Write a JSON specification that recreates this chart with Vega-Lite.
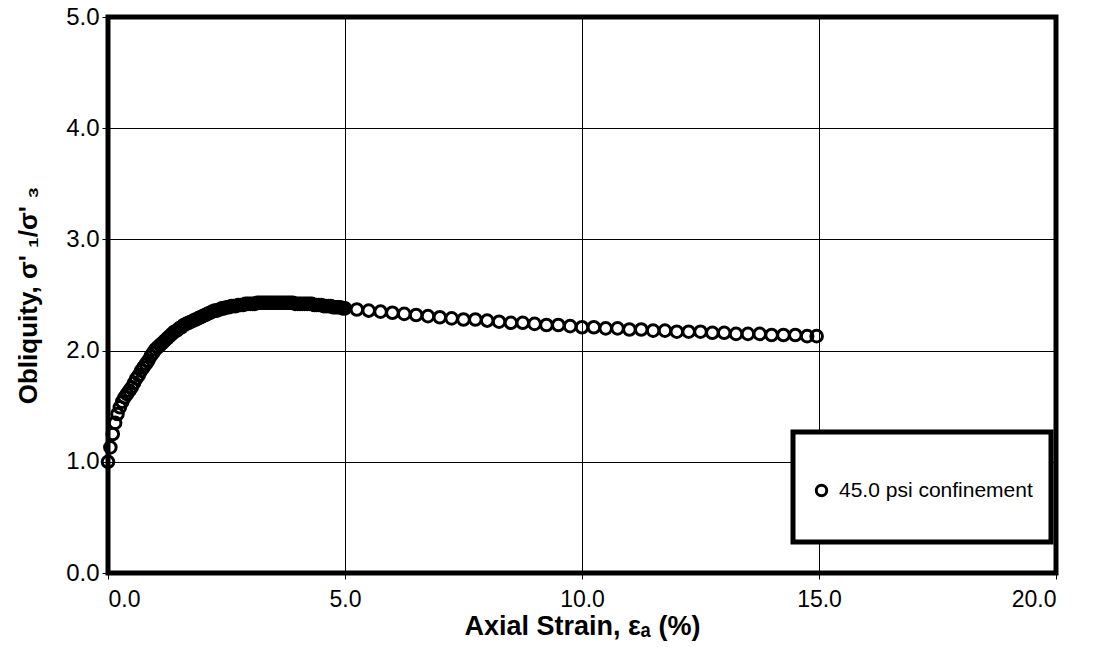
{
  "$schema": "https://vega.github.io/schema/vega-lite/v6.json",
  "width": 948,
  "height": 556,
  "autosize": {"type": "none"},
  "padding": {"left": 108, "top": 17, "right": 37, "bottom": 74},
  "background": "white",
  "config": {
    "view": {"stroke": "black", "strokeWidth": 5},
    "legend": {"strokeColor": "black", "strokeWidth": 5, "fillColor": "white"},
    "axis": {
      "domain": false,
      "grid": true,
      "gridColor": "black",
      "gridOpacity": 1,
      "gridWidth": 1,
      "tickColor": "black",
      "tickSize": 6,
      "tickWidth": 1,
      "labelFont": "Liberation Sans",
      "labelFontSize": 23,
      "labelColor": "black",
      "titleFont": "Liberation Sans",
      "titleFontWeight": "bold",
      "titleColor": "black"
    }
  },
  "data": {
    "values": [
      {"strain": 0.00, "obliquity": 1.00}, {"strain": 0.05, "obliquity": 1.13}, {"strain": 0.10, "obliquity": 1.25},
      {"strain": 0.15, "obliquity": 1.35}, {"strain": 0.20, "obliquity": 1.43}, {"strain": 0.25, "obliquity": 1.49},
      {"strain": 0.30, "obliquity": 1.54}, {"strain": 0.35, "obliquity": 1.58}, {"strain": 0.40, "obliquity": 1.61},
      {"strain": 0.45, "obliquity": 1.64}, {"strain": 0.50, "obliquity": 1.67}, {"strain": 0.55, "obliquity": 1.71},
      {"strain": 0.60, "obliquity": 1.75}, {"strain": 0.65, "obliquity": 1.78}, {"strain": 0.70, "obliquity": 1.82},
      {"strain": 0.75, "obliquity": 1.85}, {"strain": 0.80, "obliquity": 1.88}, {"strain": 0.85, "obliquity": 1.91},
      {"strain": 0.90, "obliquity": 1.95}, {"strain": 0.95, "obliquity": 1.98}, {"strain": 1.00, "obliquity": 2.01},
      {"strain": 1.05, "obliquity": 2.03}, {"strain": 1.10, "obliquity": 2.05}, {"strain": 1.15, "obliquity": 2.07},
      {"strain": 1.20, "obliquity": 2.09}, {"strain": 1.25, "obliquity": 2.11}, {"strain": 1.30, "obliquity": 2.13},
      {"strain": 1.35, "obliquity": 2.15}, {"strain": 1.40, "obliquity": 2.17}, {"strain": 1.45, "obliquity": 2.18},
      {"strain": 1.50, "obliquity": 2.20}, {"strain": 1.55, "obliquity": 2.21}, {"strain": 1.60, "obliquity": 2.23},
      {"strain": 1.65, "obliquity": 2.24}, {"strain": 1.70, "obliquity": 2.25}, {"strain": 1.75, "obliquity": 2.26},
      {"strain": 1.80, "obliquity": 2.27}, {"strain": 1.85, "obliquity": 2.28}, {"strain": 1.90, "obliquity": 2.29},
      {"strain": 1.95, "obliquity": 2.30}, {"strain": 2.00, "obliquity": 2.31}, {"strain": 2.05, "obliquity": 2.32},
      {"strain": 2.10, "obliquity": 2.33}, {"strain": 2.15, "obliquity": 2.34}, {"strain": 2.20, "obliquity": 2.35},
      {"strain": 2.25, "obliquity": 2.36}, {"strain": 2.30, "obliquity": 2.36}, {"strain": 2.35, "obliquity": 2.37},
      {"strain": 2.40, "obliquity": 2.38}, {"strain": 2.45, "obliquity": 2.38}, {"strain": 2.50, "obliquity": 2.39},
      {"strain": 2.55, "obliquity": 2.39}, {"strain": 2.60, "obliquity": 2.40}, {"strain": 2.65, "obliquity": 2.40},
      {"strain": 2.70, "obliquity": 2.40}, {"strain": 2.75, "obliquity": 2.41}, {"strain": 2.80, "obliquity": 2.41},
      {"strain": 2.85, "obliquity": 2.41}, {"strain": 2.90, "obliquity": 2.42}, {"strain": 2.95, "obliquity": 2.42},
      {"strain": 3.00, "obliquity": 2.42}, {"strain": 3.05, "obliquity": 2.42}, {"strain": 3.10, "obliquity": 2.42},
      {"strain": 3.15, "obliquity": 2.43}, {"strain": 3.20, "obliquity": 2.43}, {"strain": 3.25, "obliquity": 2.43},
      {"strain": 3.30, "obliquity": 2.43}, {"strain": 3.35, "obliquity": 2.43}, {"strain": 3.40, "obliquity": 2.43},
      {"strain": 3.45, "obliquity": 2.43}, {"strain": 3.50, "obliquity": 2.43}, {"strain": 3.55, "obliquity": 2.43},
      {"strain": 3.60, "obliquity": 2.43}, {"strain": 3.65, "obliquity": 2.43}, {"strain": 3.70, "obliquity": 2.43},
      {"strain": 3.75, "obliquity": 2.43}, {"strain": 3.80, "obliquity": 2.43}, {"strain": 3.85, "obliquity": 2.43},
      {"strain": 3.90, "obliquity": 2.43}, {"strain": 3.95, "obliquity": 2.42}, {"strain": 4.00, "obliquity": 2.42},
      {"strain": 4.05, "obliquity": 2.42}, {"strain": 4.10, "obliquity": 2.42}, {"strain": 4.15, "obliquity": 2.42},
      {"strain": 4.20, "obliquity": 2.42}, {"strain": 4.25, "obliquity": 2.42}, {"strain": 4.30, "obliquity": 2.42},
      {"strain": 4.35, "obliquity": 2.41}, {"strain": 4.40, "obliquity": 2.41}, {"strain": 4.45, "obliquity": 2.41},
      {"strain": 4.50, "obliquity": 2.41}, {"strain": 4.55, "obliquity": 2.40}, {"strain": 4.60, "obliquity": 2.40},
      {"strain": 4.65, "obliquity": 2.40}, {"strain": 4.70, "obliquity": 2.40}, {"strain": 4.75, "obliquity": 2.39},
      {"strain": 4.80, "obliquity": 2.39}, {"strain": 4.85, "obliquity": 2.39}, {"strain": 4.90, "obliquity": 2.39},
      {"strain": 4.95, "obliquity": 2.38}, {"strain": 5.00, "obliquity": 2.38},
      {"strain": 5.25, "obliquity": 2.37}, {"strain": 5.5, "obliquity": 2.36}, {"strain": 5.75, "obliquity": 2.35},
      {"strain": 6.0, "obliquity": 2.34}, {"strain": 6.25, "obliquity": 2.33}, {"strain": 6.5, "obliquity": 2.32},
      {"strain": 6.75, "obliquity": 2.31}, {"strain": 7.0, "obliquity": 2.30}, {"strain": 7.25, "obliquity": 2.29},
      {"strain": 7.5, "obliquity": 2.28}, {"strain": 7.75, "obliquity": 2.28}, {"strain": 8.0, "obliquity": 2.27},
      {"strain": 8.25, "obliquity": 2.26}, {"strain": 8.5, "obliquity": 2.25}, {"strain": 8.75, "obliquity": 2.25},
      {"strain": 9.0, "obliquity": 2.24}, {"strain": 9.25, "obliquity": 2.23}, {"strain": 9.5, "obliquity": 2.23},
      {"strain": 9.75, "obliquity": 2.22}, {"strain": 10.0, "obliquity": 2.21}, {"strain": 10.25, "obliquity": 2.21},
      {"strain": 10.5, "obliquity": 2.20}, {"strain": 10.75, "obliquity": 2.20}, {"strain": 11.0, "obliquity": 2.19},
      {"strain": 11.25, "obliquity": 2.19}, {"strain": 11.5, "obliquity": 2.18}, {"strain": 11.75, "obliquity": 2.18},
      {"strain": 12.0, "obliquity": 2.17}, {"strain": 12.25, "obliquity": 2.17}, {"strain": 12.5, "obliquity": 2.17},
      {"strain": 12.75, "obliquity": 2.16}, {"strain": 13.0, "obliquity": 2.16}, {"strain": 13.25, "obliquity": 2.15},
      {"strain": 13.5, "obliquity": 2.15}, {"strain": 13.75, "obliquity": 2.15}, {"strain": 14.0, "obliquity": 2.14},
      {"strain": 14.25, "obliquity": 2.14}, {"strain": 14.5, "obliquity": 2.14}, {"strain": 14.75, "obliquity": 2.13},
      {"strain": 14.95, "obliquity": 2.13}
    ]
  },
  "mark": {"type": "point", "filled": false, "strokeWidth": 3, "size": 135, "shape": "circle", "opacity": 1},
  "encoding": {
    "x": {
      "field": "strain",
      "type": "quantitative",
      "scale": {"domain": [0, 20], "nice": false, "zero": false},
      "axis": {
        "values": [0, 5, 10, 15, 20],
        "format": ".1f",
        "labelPadding": 9,
        "labelFontSize": 23,
        "title": "Axial Strain, εₐ (%)",
        "titleFontSize": 27,
        "titlePadding": 2
      }
    },
    "y": {
      "field": "obliquity",
      "type": "quantitative",
      "scale": {"domain": [0, 5], "nice": false, "zero": false},
      "axis": {
        "values": [0, 1, 2, 3, 4, 5],
        "format": ".1f",
        "labelPadding": 3,
        "labelFontSize": 24,
        "title": "Obliquity,  σ' ₁/σ' ₃",
        "titleFontSize": 26,
        "titlePadding": 24
      }
    },
    "color": {
      "datum": "45.0 psi confinement",
      "type": "nominal",
      "scale": {"range": ["black"]},
      "legend": {
        "title": " ",
        "titleFontSize": 24,
        "titlePadding": 6,
        "orient": "none",
        "legendX": 685,
        "legendY": 415,
        "padding": 18,
        "labelFont": "Liberation Sans",
        "labelFontSize": 21,
        "labelColor": "black",
        "labelOffset": 7,
        "labelLimit": 600,
        "labelExpr": "[datum.label, '']",
        "symbolType": "circle",
        "symbolSize": 110,
        "symbolStrokeWidth": 3,
        "symbolFillColor": "white"
      }
    }
  }
}
